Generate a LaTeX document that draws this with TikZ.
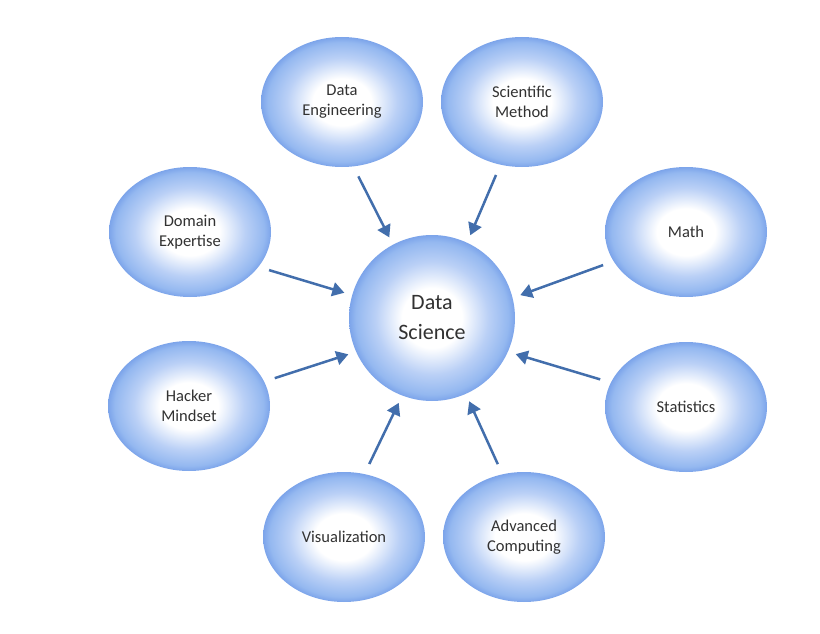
\documentclass[tikz,border=0pt]{standalone}
\usepackage{fontspec}
\setmainfont{Carlito}
\usepackage{xcolor}
\usepackage{tikz}
\usetikzlibrary{shapes.geometric, arrows.meta}
\definecolor{DSLight}{RGB}{186,208,246}
\definecolor{DSBlue}{RGB}{148,184,240}
\definecolor{DSEdge}{RGB}{124,164,234}
\definecolor{DSArrow}{RGB}{66,110,172}
\definecolor{DSText}{RGB}{50,50,50}
\pgfdeclareradialshading{bubbleshade}{\pgfpoint{0bp}{0bp}}{color(0bp)=(white); color(9bp)=(white); color(17bp)=(DSLight); color(23bp)=(DSBlue); color(25bp)=(DSEdge); color(50bp)=(DSEdge)}

\begin{document}
\begin{tikzpicture}[x=1pt, y=-1pt,
      bubble/.style={ellipse, shade, shading=bubbleshade, inner sep=0pt,
                     minimum width=162pt, minimum height=130pt,
                     align=center, text=DSText, font=\fontsize{16.5}{20}\selectfont},
      hub/.style={circle, shade, shading=bubbleshade, inner sep=0pt,
                  minimum size=166pt, align=center, text=DSText,
                  font=\fontsize{22}{30}\selectfont},
      arr/.style={draw=DSArrow, line width=2.5pt,
                  -{Triangle[length=12pt, width=14pt]},
                  shorten <=11pt, shorten >=8pt}
    ]
    \useasboundingbox (0,0) rectangle (820,634);

    % Centre
    \node[hub] (DS) at (432,318) {Data\\Science};

    % Bubbles
    \node[bubble] (DE) at (342,102) {Data\\Engineering};
    \node[bubble] (SM) at (522,102) {Scientific\\Method};
    \node[bubble] (DX) at (190,232) {Domain\\Expertise};
    \node[bubble] (MA) at (686,232) {Math};
    \node[bubble] (HM) at (189,406) {Hacker\\Mindset};
    \node[bubble] (ST) at (686,407) {Statistics};
    \node[bubble] (VI) at (344,537) {Visualization};
    \node[bubble] (AC) at (524,537) {Advanced\\Computing};

    % Arrows
    \draw[arr] (DE.-80)  -- (DS.118);
    \draw[arr] (SM.-109) -- (DS.65);
    \draw[arr] (DX.-27)  -- (DS.164);
    \draw[arr] (MA.202)  -- (DS.14);
    \draw[arr] (HM.18)   -- (DS.204);
    \draw[arr] (ST.162)  -- (DS.-24);
    \draw[arr] (VI.72)   -- (DS.249);
    \draw[arr] (AC.109)  -- (DS.294);
  \end{tikzpicture}
\end{document}
